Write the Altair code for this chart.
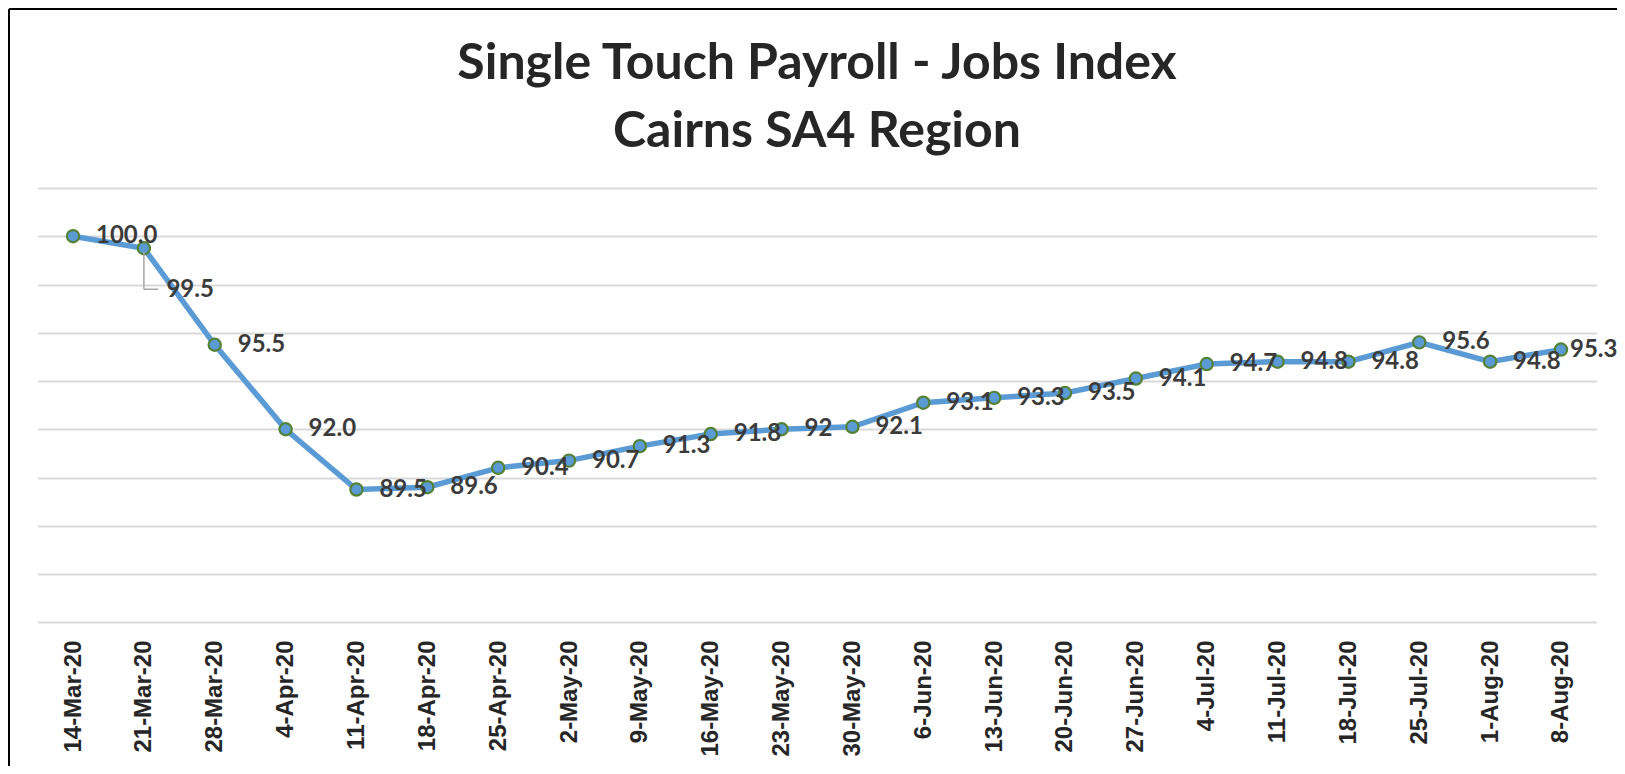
import altair as alt
import pandas as pd

# ---- data ----
dates = ["14-Mar-20", "21-Mar-20", "28-Mar-20", "4-Apr-20", "11-Apr-20", "18-Apr-20",
         "25-Apr-20", "2-May-20", "9-May-20", "16-May-20", "23-May-20", "30-May-20",
         "6-Jun-20", "13-Jun-20", "20-Jun-20", "27-Jun-20", "4-Jul-20", "11-Jul-20",
         "18-Jul-20", "25-Jul-20", "1-Aug-20", "8-Aug-20"]
values = [100.0, 99.5, 95.5, 92.0, 89.5, 89.6, 90.4, 90.7, 91.3, 91.8, 92.0, 92.1,
          93.1, 93.3, 93.5, 94.1, 94.7, 94.8, 94.8, 95.6, 94.8, 95.3]
labels = ["100.0", "99.5", "95.5", "92.0", "89.5", "89.6", "90.4", "90.7", "91.3", "91.8",
          "92", "92.1", "93.1", "93.3", "93.5", "94.1", "94.7", "94.8", "94.8", "95.6",
          "94.8", "95.3"]
y_ticks = [84, 86, 88, 90, 92, 94, 96, 98, 100, 102]
title_lines = ["Single Touch Payroll - Jobs Index", "Cairns SA4 Region"]

df = pd.DataFrame({"date": dates, "value": values, "label": labels})

W, H = 1558.8, 434.4
PAD = {"left": 29.6, "top": 179.9, "right": 20.6, "bottom": 143.7}

x_scale = alt.Scale(type="point", padding=0.5, domain=dates)
x_enc = alt.X(
    "date:N",
    sort=dates,
    scale=x_scale,
    axis=alt.Axis(
        title=None, labelAngle=-90, labelFont="Liberation Sans", labelFontSize=24,
        labelFontWeight="bold", labelColor="#262626", labelPadding=17.7,
        ticks=False, tickSize=0, domain=False, grid=False, labelOverlap=False,
    ),
)
xs = alt.X("date:N", sort=dates, scale=x_scale)
y_enc = alt.Y(
    "value:Q",
    scale=alt.Scale(domain=[84, 102], nice=False, zero=False),
    axis=alt.Axis(
        title=None, values=y_ticks, labels=False, ticks=False, domain=False,
        grid=True, gridColor="#d9d9d9", gridWidth=2,
    ),
)

base = alt.Chart(df)

line = base.mark_line(color="#5B9BD5", strokeWidth=5.5).encode(x=x_enc, y=y_enc)
pts = base.mark_point(
    filled=True, fill="#5B9BD5", stroke="#548235", strokeWidth=2.2, size=150, opacity=1
).encode(x=xs, y="value:Q")

normal = [d for d in dates if d not in ("21-Mar-20", "8-Aug-20")]
lab_font = dict(font="Lato", fontSize=24, fontWeight="bold", color="#3b3b3b",
                align="left", baseline="middle")

lab_main = base.transform_filter(
    alt.FieldOneOfPredicate(field="date", oneOf=normal)
).mark_text(dx=23, **lab_font).encode(x=xs, y="value:Q", text="label:N")

lab_last = base.transform_filter(
    alt.FieldEqualPredicate(field="date", equal="8-Aug-20")
).mark_text(dx=9, **lab_font).encode(x=xs, y="value:Q", text="label:N")

lab_second = base.transform_filter(
    alt.FieldEqualPredicate(field="date", equal="21-Mar-20")
).mark_text(dx=22.5, dy=42, **lab_font).encode(x=xs, y="value:Q", text="label:N")

leader_v = base.transform_filter(
    alt.FieldEqualPredicate(field="date", equal="21-Mar-20")
).mark_rule(color="#a6a6a6", strokeWidth=1.5, yOffset=4, y2Offset=41).encode(
    x=xs, y="value:Q", y2="value:Q"
)
leader_h = base.transform_filter(
    alt.FieldEqualPredicate(field="date", equal="21-Mar-20")
).mark_rule(color="#a6a6a6", strokeWidth=1.5, yOffset=41, xOffset=0, x2Offset=14.5).encode(
    x=xs, x2="date:N", y="value:Q"
)

one = alt.Chart(pd.DataFrame({"k": [0]}))
border_left = one.mark_rule(color="#000000", strokeWidth=2).encode(
    x=alt.value(-28.6), y=alt.value(-178.9), y2=alt.value(H + PAD["bottom"])
)
border_top = one.mark_rule(color="#000000", strokeWidth=2).encode(
    x=alt.value(-28.6), x2=alt.value(W + PAD["right"]), y=alt.value(-178.9)
)

chart = alt.layer(
    line, pts, leader_v, leader_h, lab_main, lab_last, lab_second, border_left, border_top
).properties(
    width=W,
    height=H,
    padding=PAD,
    autosize=alt.AutoSizeParams(type="none"),
    background="white",
    title=alt.TitleParams(
        text=title_lines, font="Lato", fontSize=50, fontWeight="bold", color="#262626",
        lineHeight=68, anchor="middle", frame="group", offset=-148.9,
    ),
).configure_view(stroke=None)

chart.save("out.html", embed_options={"renderer": "svg", "actions": False})
